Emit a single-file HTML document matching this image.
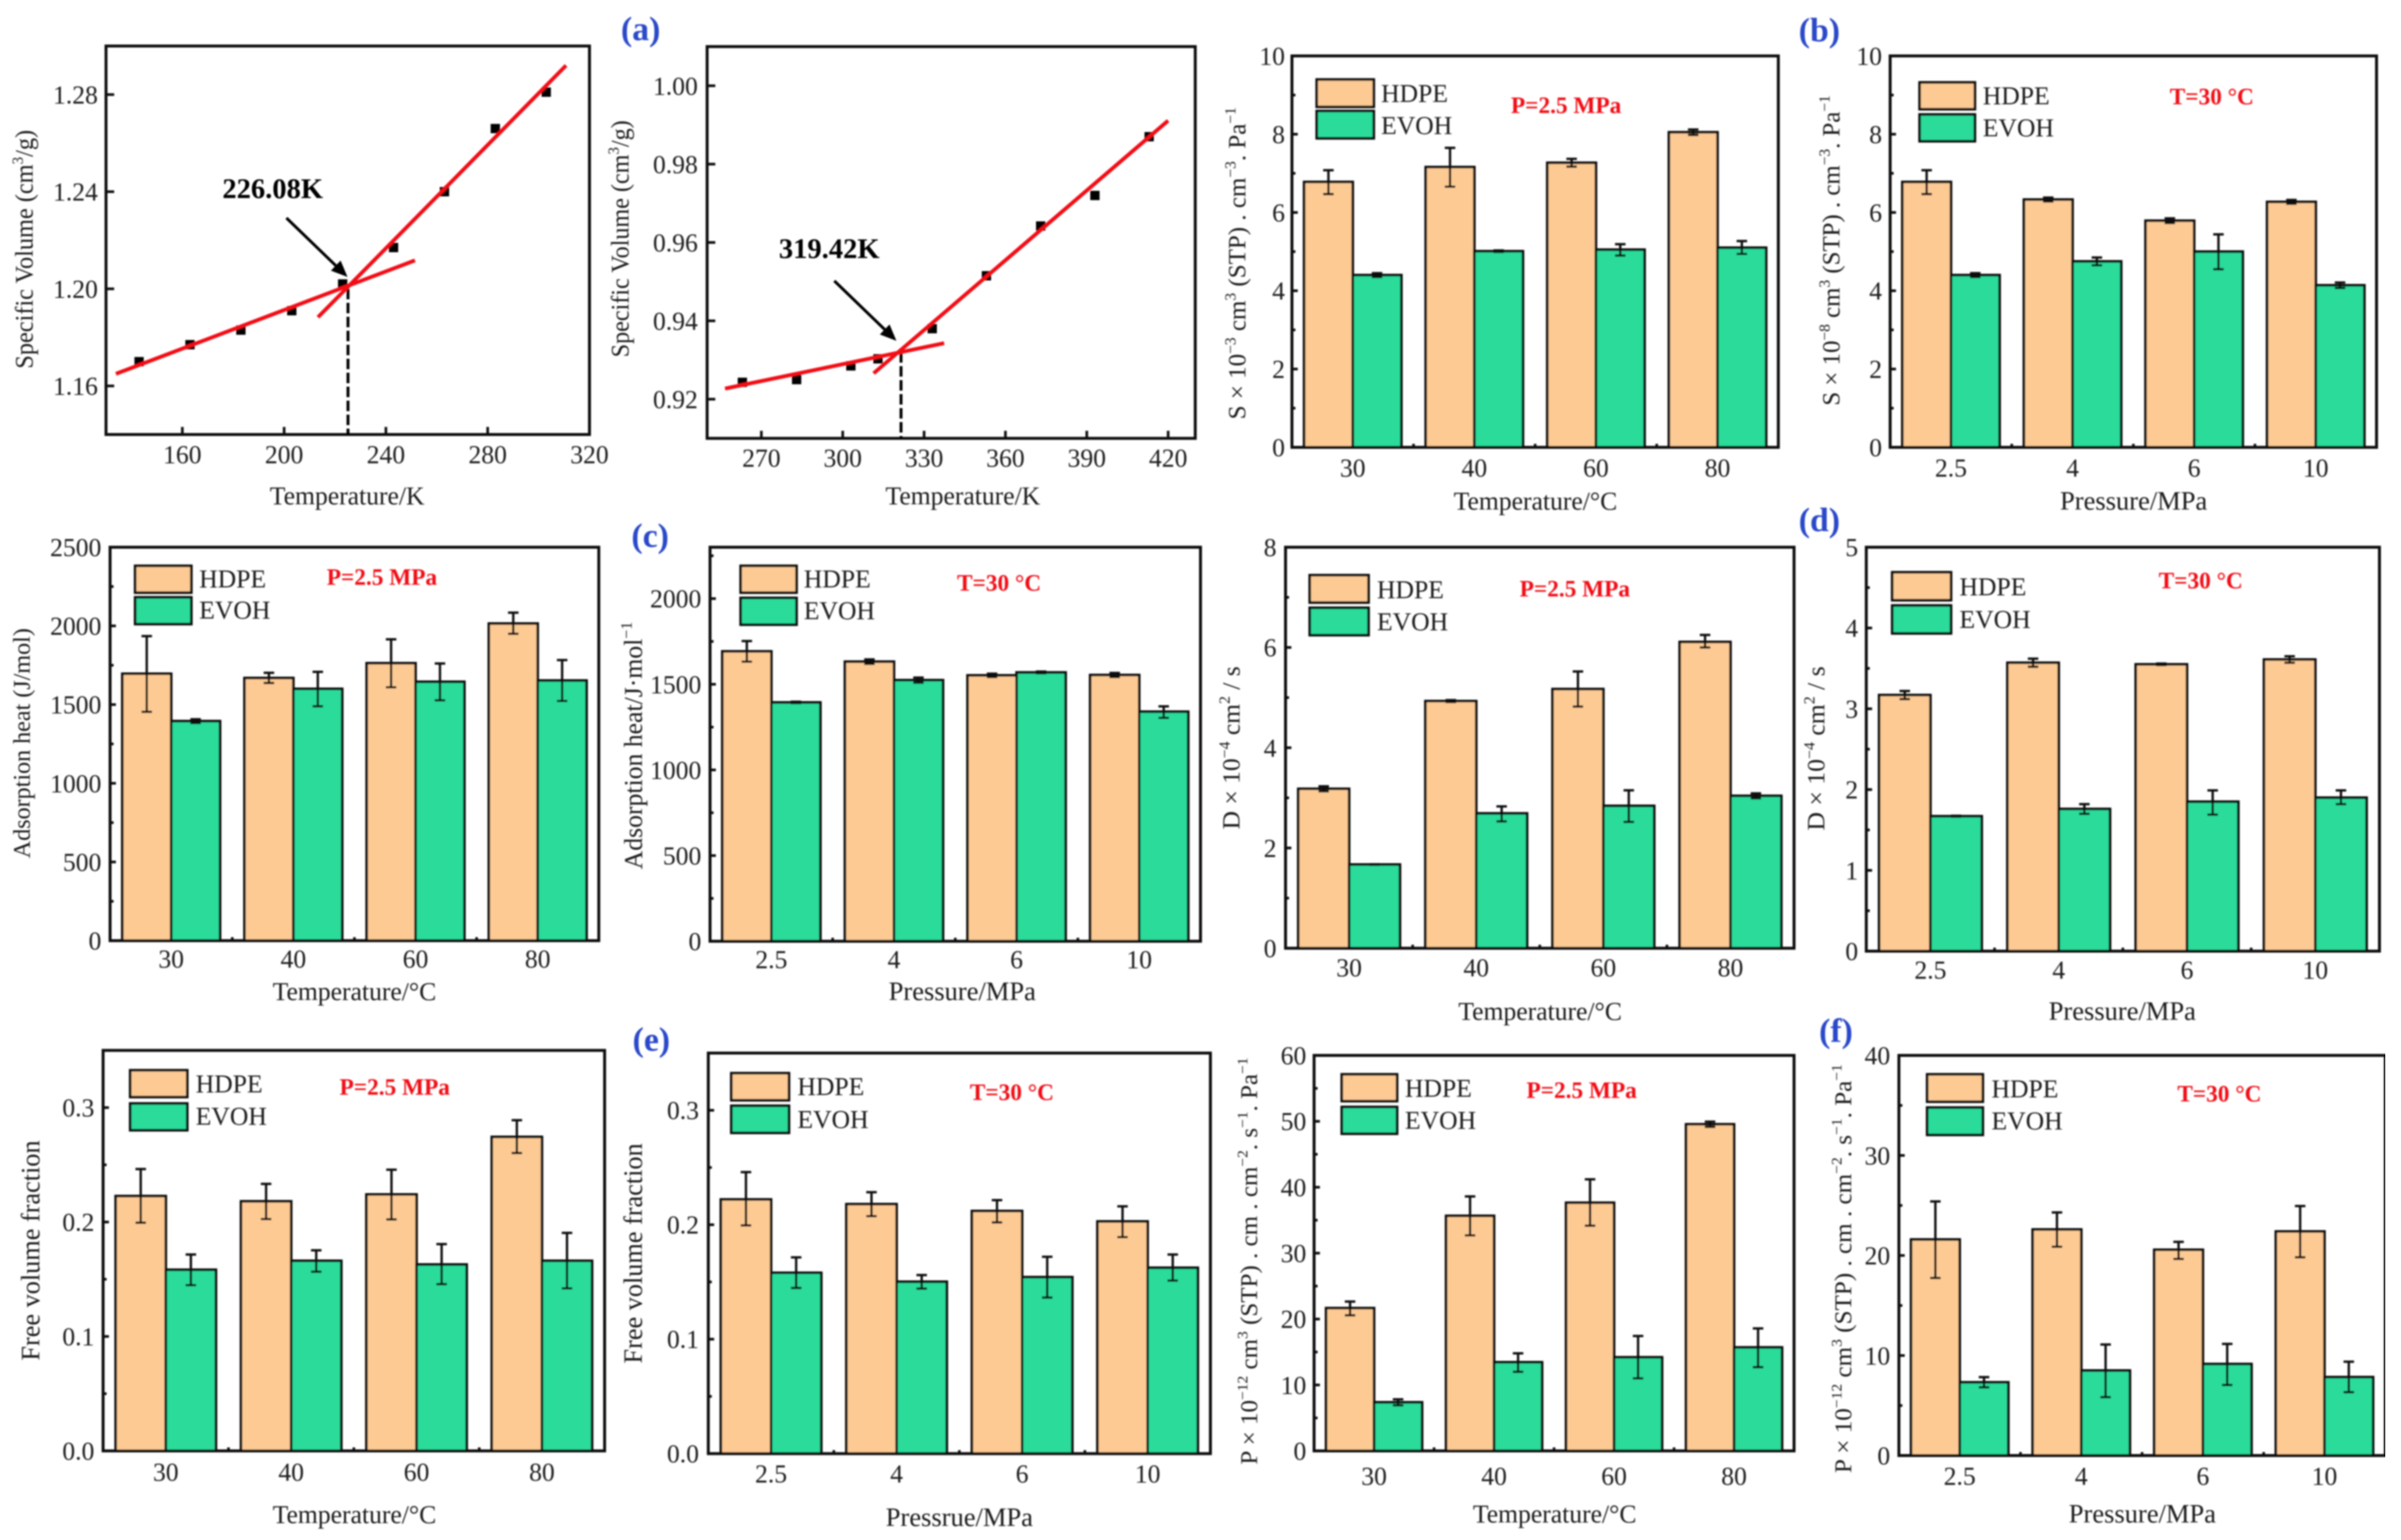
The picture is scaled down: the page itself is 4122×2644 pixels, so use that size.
<!DOCTYPE html>
<html lang="en">
<head>
<meta charset="utf-8">
<title>HDPE and EVOH property charts</title>
<style>
html,body{margin:0;padding:0;background:#fff;}
svg{display:block;}
text{font-family:"Liberation Serif","DejaVu Serif",serif;fill:#1c1c1c;}
</style>
</head>
<body>
<svg id="figure" width="4122" height="2644" viewBox="0 0 4122 2644">
  <defs><filter id="soft" x="0" y="0" width="100%" height="100%"><feGaussianBlur stdDeviation="1.4"/></filter></defs>
  <rect x="0" y="0" width="4122" height="2644" fill="#fff"/>
  <g id="root" filter="url(#soft)"></g>
</svg>
<script>
/* ---------- shared categories ---------- */
const tempCategories = ['30','40','60','80'];
const pressureCategories = ['2.5','4','6','10'];

/* ---------- (a) specific volume ---------- */
const svLowTicksX = [160,200,240,280,320];
const svLowTicksY = [1.16,1.20,1.24,1.28];
const svLowT = [143,163,183,203,223,243,263,283,303];
const svLowV = [1.170,1.177,1.183,1.191,1.202,1.217,1.240,1.266,1.281];
const svLowFitA_T = [133.9,251.4];
const svLowFitA_V = [1.165,1.2117];
const svLowFitB_T = [213.3,310.8];
const svLowFitB_V = [1.1883,1.292];
const svLowArrowT = [200.9,224.9];
const svLowArrowV = [1.2292,1.2049];
const svLowTg = [225.1,1.2];

const svHighTicksX = [270,300,330,360,390,420];
const svHighTicksY = [0.92,0.94,0.96,0.98,1.00];
const svHighT = [263,283,303,313,333,353,373,393,413];
const svHighV = [0.9243,0.925,0.9285,0.9303,0.938,0.9515,0.9642,0.972,0.987];
const svHighFitA_T = [256.6,337.4];
const svHighFitA_V = [0.9227,0.9343];
const svHighFitB_T = [311.4,420];
const svHighFitB_V = [0.9266,0.9911];
const svHighArrowT = [296.9,319.8];
const svHighArrowV = [0.9502,0.9349];
const svHighTg = [321.5,0.932];

/* ---------- (b) solubility ---------- */
const sTicks = [0,2,4,6,8,10];
const sTempHdpe = [6.78,7.16,7.27,8.05];
const sTempHdpeHi = [7.08,7.65,7.37,8.12];
const sTempHdpeLo = [6.47,6.66,7.17,7.98];
const sTempEvoh = [4.40,5.01,5.05,5.10];
const sTempEvohHi = [4.45,5.03,5.19,5.27];
const sTempEvohLo = [4.35,4.99,4.90,4.94];
const sPresHdpe = [6.78,6.33,5.79,6.27];
const sPresHdpeHi = [7.08,6.38,5.85,6.32];
const sPresHdpeLo = [6.47,6.28,5.73,6.22];
const sPresEvoh = [4.40,4.75,5.00,4.14];
const sPresEvohHi = [4.45,4.85,5.44,4.21];
const sPresEvohLo = [4.35,4.65,4.55,4.07];

/* ---------- (c) adsorption heat ---------- */
const hTempTicks = [0,500,1000,1500,2000,2500];
const hTempHdpe = [1696,1669,1763,2015];
const hTempHdpeHi = [1935,1702,1915,2084];
const hTempHdpeLo = [1454,1637,1610,1950];
const hTempEvoh = [1395,1600,1645,1653];
const hTempEvohHi = [1407,1708,1761,1783];
const hTempEvohLo = [1383,1489,1527,1523];
const hPresTicks = [0,500,1000,1500,2000];
const hPresHdpe = [1692,1632,1552,1554];
const hPresHdpeHi = [1752,1645,1562,1566];
const hPresHdpeLo = [1632,1619,1542,1542];
const hPresEvoh = [1394,1524,1569,1340];
const hPresEvohHi = [1398,1539,1574,1371];
const hPresEvohLo = [1390,1509,1564,1304];

/* ---------- (d) diffusion ---------- */
const dTempTicks = [0,2,4,6,8];
const dTempHdpe = [3.18,4.93,5.17,6.11];
const dTempHdpeHi = [3.23,4.95,5.52,6.25];
const dTempHdpeLo = [3.13,4.91,4.82,6.00];
const dTempEvoh = [1.67,2.69,2.84,3.04];
const dTempEvohHi = [1.675,2.83,3.15,3.09];
const dTempEvohLo = [1.665,2.53,2.52,2.99];
const dPresTicks = [0,1,2,3,4,5];
const dPresHdpe = [3.17,3.57,3.55,3.61];
const dPresHdpeHi = [3.22,3.62,3.56,3.65];
const dPresHdpeLo = [3.12,3.52,3.54,3.57];
const dPresEvoh = [1.67,1.76,1.85,1.90];
const dPresEvohHi = [1.675,1.82,1.99,1.99];
const dPresEvohLo = [1.665,1.70,1.69,1.82];

/* ---------- (e) free volume fraction ---------- */
const fTicks = [0,0.1,0.2,0.3];
const fTempHdpe = [0.2227,0.2181,0.2241,0.2744];
const fTempHdpeHi = [0.2463,0.2333,0.2457,0.289];
const fTempHdpeLo = [0.1994,0.2026,0.2023,0.2603];
const fTempEvoh = [0.1583,0.1661,0.1629,0.1661];
const fTempEvohHi = [0.1716,0.1753,0.1807,0.1905];
const fTempEvohLo = [0.1448,0.1566,0.1457,0.142];
const fPresHdpe = [0.2221,0.218,0.212,0.2029];
const fPresHdpeHi = [0.246,0.2284,0.2215,0.2161];
const fPresHdpeLo = [0.1994,0.2075,0.202,0.1892];
const fPresEvoh = [0.158,0.1502,0.1542,0.1624];
const fPresEvohHi = [0.1715,0.156,0.172,0.174];
const fPresEvohLo = [0.1448,0.1442,0.1364,0.1512];

/* ---------- (f) permeability ---------- */
const pTempTicks = [0,10,20,30,40,50,60];
const pTempHdpe = [21.66,35.66,37.65,49.55];
const pTempHdpeHi = [22.66,38.6,41.2,49.95];
const pTempHdpeLo = [20.57,32.7,34.16,49.15];
const pTempEvoh = [7.37,13.45,14.2,15.7];
const pTempEvohHi = [7.82,14.8,17.43,18.58];
const pTempEvohLo = [6.92,12.0,11.0,12.7];
const pPresTicks = [0,10,20,30,40];
const pPresHdpe = [21.6,22.6,20.57,22.4];
const pPresHdpeHi = [25.4,24.3,21.36,24.94];
const pPresHdpeLo = [17.75,20.87,19.65,19.82];
const pPresEvoh = [7.32,8.5,9.15,7.84];
const pPresEvohHi = [7.84,11.1,11.16,9.38];
const pPresEvohLo = [6.82,5.84,7.05,6.33];

/* ---------- drawing helpers ---------- */
const root = document.getElementById('root');
const NS = root.namespaceURI;
const HDPE_COLOR = '#fdca94';
const EVOH_COLOR = '#2bdb9a';
const INK = '#111';
const RED = '#f20d14';

function mk(tag, attrs, parent) {
  const el = document.createElementNS(NS, tag);
  for (const k in attrs) el.setAttribute(k, attrs[k]);
  parent.appendChild(el);
  return el;
}
function rich(el, str, size) {
  const parts = str.split(/\^\{([^}]*)\}/);
  let back = 0;
  parts.forEach(function (part, i) {
    if (!part) return;
    const sup = i % 2 === 1;
    const span = mk('tspan', {}, el);
    span.textContent = part;
    if (sup) {
      span.setAttribute('font-size', size * 0.62);
      span.setAttribute('dy', -size * 0.4);
      back = size * 0.4;
    } else if (back) {
      span.setAttribute('dy', back);
      back = 0;
    }
  });
}
function horizontal(parent, x, y, str, size, anchor) {
  return mk('text', {x: x, y: y, 'font-size': size, 'text-anchor': anchor}, parent);
}
function axisTitles(g, L, xTitle, yTitle) {
  const xSize = xTitle.indexOf('Press') === 0 ? 45.5 : 44;
  const xt = horizontal(g, L.xTitleX, L.xTitleY, xTitle, xSize, 'middle');
  xt.textContent = xTitle;
  
  
  const yt = mk('text', {
    transform: 'translate(' + L.yTitleX + ',' + L.yTitleY + ') rotate(-90)',
    'font-size': L.yTitleSize, 'text-anchor': 'middle',
    textLength: L.yTitleLen, lengthAdjust: 'spacingAndGlyphs'
  }, g);
  rich(yt, yTitle, L.yTitleSize);
  
  
}
function frameRect(g, L) {
  const fr = mk('rect', {x: L.left, y: L.top, width: L.right - L.left, height: L.bottom - L.top, fill: 'none', stroke: INK, 'stroke-width': 5}, g);
  
  
}
function yTickLabel(g, L, yPix, str) {
  const t = horizontal(g, L.yLabelRight, yPix + 15, str, 44, 'end');
  t.textContent = str;
  
  
}
function xTickLabel(g, L, xPix, str) {
  const t = horizontal(g, xPix, L.xLabelBase, str, 44, 'middle');
  t.textContent = str;
  
  
}
function tickLine(g, x1, y1, x2, y2, name) {
  const t = mk('line', {x1: x1, y1: y1, x2: x2, y2: y2, stroke: INK, 'stroke-width': 4.5}, g);
  
  
}

/* ---------- grouped bar chart ---------- */
function barChart(name, L, cats, yTicks, yMax, digits, hdpe, hdpeHi, hdpeLo, evoh, evohHi, evohLo, xTitle, yTitle, note) {
  const g = mk('g', {}, root);
  
  
  const yS = function (v) { return L.bottom - v / yMax * (L.bottom - L.top); };
  const step = (L.right - L.left) / cats.length;
  const xS = function (i) { return L.left + (i + 0.5) * step; };
  const bw = step * 0.4;

  // y ticks
  yTicks.forEach(function (v, i) {
    const y = yS(v);
    tickLine(g, L.left, y, L.left + 10, y, 'y-major-tick');
    yTickLabel(g, L, y, v.toFixed(digits));
    const minor = v + (yTicks[1] - yTicks[0]) / 2;
    if (minor < yMax) tickLine(g, L.left, yS(minor), L.left + 6, yS(minor), 'y-minor-tick');
  });
  // boundary ticks between groups
  cats.forEach(function (c, i) {
    if (i > 0) tickLine(g, L.left + i * step, L.bottom, L.left + i * step, L.bottom - 6, 'x-minor-tick');
    xTickLabel(g, L, xS(i), c);
  });
  // bars
  const series = [
    {key: 'hdpe', color: HDPE_COLOR, v: hdpe, hi: hdpeHi, lo: hdpeLo, off: -bw},
    {key: 'evoh', color: EVOH_COLOR, v: evoh, hi: evohHi, lo: evohLo, off: 0}
  ];
  series.forEach(function (s) {
    s.v.forEach(function (val, i) {
      const x = xS(i) + s.off;
      const bar = mk('rect', {x: x, y: yS(val), width: bw, height: L.bottom - yS(val), fill: s.color, stroke: INK, 'stroke-width': 4.5}, g);
      
      
    });
  });
  series.forEach(function (s) {
    s.v.forEach(function (val, i) {
      const cx = xS(i) + s.off + bw / 2;
      const yh = yS(s.hi[i]), yl = yS(s.lo[i]);
      const eb = mk('path', {
        d: 'M' + cx + ' ' + yh + 'V' + yl + 'M' + (cx - 9) + ' ' + yh + 'H' + (cx + 9) + 'M' + (cx - 9) + ' ' + yl + 'H' + (cx + 9),
        fill: 'none', stroke: INK, 'stroke-width': 4
      }, g);
      
      
    });
  });
  frameRect(g, L);

  // legend
  const leg = mk('g', {}, g);
  
  
  const box1 = mk('rect', {x: L.legX + 1.5, y: L.legY1 + 1.5, width: L.legW - 3, height: L.legH - 3, fill: HDPE_COLOR, stroke: INK, 'stroke-width': 4.5}, leg);
  
  
  const box2 = mk('rect', {x: L.legX + 1.5, y: L.legY2 + 1.5, width: L.legW - 3, height: L.legH - 3, fill: EVOH_COLOR, stroke: INK, 'stroke-width': 4.5}, leg);
  
  
  const lab1 = horizontal(leg, L.legTx, L.legB1, 'HDPE', 44, 'start');
  lab1.textContent = 'HDPE';
  
  
  const lab2 = horizontal(leg, L.legTx, L.legB2, 'EVOH', 44, 'start');
  lab2.textContent = 'EVOH';
  
  

  // condition note
  const cond = horizontal(g, L.noteX, L.noteY, note, 40, 'start');
  cond.textContent = note;
  cond.setAttribute('font-weight', 'bold');
  cond.setAttribute('style', 'fill:' + RED);
  
  

  axisTitles(g, L, xTitle, yTitle);
}

/* ---------- specific volume scatter chart ---------- */
function lineChart(name, L, xDomain, yDomain, xTicks, yTicks, xs, ys, fitAx, fitAy, fitBx, fitBy, arrowX, arrowY, tg, labelText, labelPos, xTitle, yTitle) {
  const g = mk('g', {}, root);
  
  
  const xS = function (v) { return L.left + (v - xDomain[0]) / (xDomain[1] - xDomain[0]) * (L.right - L.left); };
  const yS = function (v) { return L.bottom - (v - yDomain[0]) / (yDomain[1] - yDomain[0]) * (L.bottom - L.top); };

  frameRect(g, L);
  xTicks.forEach(function (v) {
    tickLine(g, xS(v), L.bottom, xS(v), L.bottom - 13, 'x-major-tick');
    xTickLabel(g, L, xS(v), String(v));
  });
  yTicks.forEach(function (v) {
    tickLine(g, L.left, yS(v), L.left + 14, yS(v), 'y-major-tick');
    yTickLabel(g, L, yS(v), v.toFixed(2));
  });
  xs.forEach(function (x, i) {
    const m = mk('rect', {x: xS(x) - 8, y: yS(ys[i]) - 8, width: 16, height: 16, fill: '#000'}, g);
    
    
  });
  const dash = mk('line', {x1: xS(tg[0]), y1: yS(tg[1]), x2: xS(tg[0]), y2: L.bottom, stroke: '#000', 'stroke-width': 5, 'stroke-dasharray': '18 6'}, g);
  
  
  const lineA = mk('line', {x1: xS(fitAx[0]), y1: yS(fitAy[0]), x2: xS(fitAx[1]), y2: yS(fitAy[1]), stroke: RED, 'stroke-width': 6.5}, g);
  
  
  const lineB = mk('line', {x1: xS(fitBx[0]), y1: yS(fitBy[0]), x2: xS(fitBx[1]), y2: yS(fitBy[1]), stroke: RED, 'stroke-width': 6.5}, g);
  
  

  // arrow
  const ax1 = xS(arrowX[0]), ay1 = yS(arrowY[0]), ax2 = xS(arrowX[1]), ay2 = yS(arrowY[1]);
  const ang = Math.atan2(ay2 - ay1, ax2 - ax1);
  const headLen = 28, headW = 12;
  const bx = ax2 - Math.cos(ang) * headLen, by = ay2 - Math.sin(ang) * headLen;
  const shaft = mk('line', {x1: ax1, y1: ay1, x2: bx, y2: by, stroke: '#000', 'stroke-width': 5}, g);
  
  
  const head = mk('polygon', {
    points: ax2 + ',' + ay2 + ' ' + (bx - Math.sin(ang) * headW) + ',' + (by + Math.cos(ang) * headW) + ' ' + (bx + Math.sin(ang) * headW) + ',' + (by - Math.cos(ang) * headW),
    fill: '#000'
  }, g);
  
  

  const lab = horizontal(g, xS(labelPos[0]), yS(labelPos[1]), labelText, 49, 'middle');
  lab.textContent = labelText;
  lab.setAttribute('font-weight', 'bold');
  lab.setAttribute('style', 'fill:#000');
  
  

  axisTitles(g, L, xTitle, yTitle);
}

/* ---------- panels ---------- */
lineChart('chart-specific-volume-hdpe',
  {left:182,right:1012,top:79,bottom:746,yLabelRight:168,xLabelBase:795,xTitleX:596,xTitleY:866,yTitleX:56,yTitleY:428,yTitleSize:43,yTitleLen:410},
  [130,320],[1.14,1.30],svLowTicksX,svLowTicksY,svLowT,svLowV,svLowFitA_T,svLowFitA_V,svLowFitB_T,svLowFitB_V,svLowArrowT,svLowArrowV,svLowTg,
  '226.08K',[195.5,1.2374],'Temperature/K','Specific Volume (cm^{3}/g)');

lineChart('chart-specific-volume-evoh',
  {left:1214,right:2052,top:80,bottom:752.6,yLabelRight:1198,xLabelBase:801,xTitleX:1653,xTitleY:866,yTitleX:1079,yTitleY:410,yTitleSize:43,yTitleLen:407},
  [250,430],[0.91,1.01],svHighTicksX,svHighTicksY,svHighT,svHighV,svHighFitA_T,svHighFitA_V,svHighFitB_T,svHighFitB_V,svHighArrowT,svHighArrowV,svHighTg,
  '319.42K',[295,0.956],'Temperature/K','Specific Volume (cm^{3}/g)');

barChart('chart-solubility-temperature',
  {left:2218,right:3053,top:96,bottom:768,yLabelRight:2206,xLabelBase:818,xTitleX:2636,xTitleY:875,yTitleX:2138,yTitleY:452,yTitleSize:42,yTitleLen:536,
   legX:2259,legW:101,legY1:135,legY2:189,legH:50,legTx:2371,legB1:175,legB2:230,noteX:2594,noteY:194},
  tempCategories,sTicks,10,0,sTempHdpe,sTempHdpeHi,sTempHdpeLo,sTempEvoh,sTempEvohHi,sTempEvohLo,
  'Temperature/°C','S × 10^{−3} cm^{3} (STP) . cm^{−3}. Pa^{−1}','P=2.5 MPa');

barChart('chart-solubility-pressure',
  {left:3245,right:4080,top:96,bottom:768,yLabelRight:3231,xLabelBase:818,xTitleX:3663,xTitleY:875,yTitleX:3158,yTitleY:430,yTitleSize:42,yTitleLen:533,
   legX:3294,legW:98,legY1:140,legY2:195,legH:49,legTx:3404,legB1:179,legB2:234,noteX:3725,noteY:179},
  pressureCategories,sTicks,10,0,sPresHdpe,sPresHdpeHi,sPresHdpeLo,sPresEvoh,sPresEvohHi,sPresEvohLo,
  'Pressure/MPa','S × 10^{−8} cm^{3} (STP) . cm^{−3}. Pa^{−1}','T=30 °C');

barChart('chart-adsorption-heat-temperature',
  {left:189,right:1028,top:939.5,bottom:1615,yLabelRight:174,xLabelBase:1661,xTitleX:608.5,xTitleY:1717,yTitleX:51,yTitleY:1276,yTitleSize:41,yTitleLen:395,
   legX:230.5,legW:99.5,legY1:970,legY2:1024,legH:49,legTx:342,legB1:1008.6,legB2:1062,noteX:561,noteY:1004},
  tempCategories,hTempTicks,2500,0,hTempHdpe,hTempHdpeHi,hTempHdpeLo,hTempEvoh,hTempEvohHi,hTempEvohLo,
  'Temperature/°C','Adsorption heat (J/mol)','P=2.5 MPa');

barChart('chart-adsorption-heat-pressure',
  {left:1219,right:2061,top:939.5,bottom:1616,yLabelRight:1204,xLabelBase:1662,xTitleX:1652,xTitleY:1717,yTitleX:1102,yTitleY:1280,yTitleSize:44,yTitleLen:425,
   legX:1270,legW:99,legY1:970,legY2:1025,legH:49,legTx:1380,legB1:1008.6,legB2:1063,noteX:1643,noteY:1014},
  pressureCategories,hPresTicks,2300,0,hPresHdpe,hPresHdpeHi,hPresHdpeLo,hPresEvoh,hPresEvohHi,hPresEvohLo,
  'Pressure/MPa','Adsorption heat/J·mol^{−1}','T=30 °C');

barChart('chart-diffusion-temperature',
  {left:2207,right:3080,top:939.5,bottom:1628,yLabelRight:2191.5,xLabelBase:1676,xTitleX:2644,xTitleY:1751,yTitleX:2128,yTitleY:1284,yTitleSize:42,yTitleLen:280,
   legX:2247,legW:104,legY1:986,legY2:1042,legH:50,legTx:2364,legB1:1027,legB2:1082,noteX:2609,noteY:1024},
  tempCategories,dTempTicks,8,0,dTempHdpe,dTempHdpeHi,dTempHdpeLo,dTempEvoh,dTempEvohHi,dTempEvohLo,
  'Temperature/°C','D × 10^{−4} cm^{2} / s','P=2.5 MPa');

barChart('chart-diffusion-pressure',
  {left:3204,right:4085,top:939.5,bottom:1633,yLabelRight:3190,xLabelBase:1680,xTitleX:3643.5,xTitleY:1751,yTitleX:3132,yTitleY:1285,yTitleSize:42,yTitleLen:282,
   legX:3247,legW:104,legY1:981,legY2:1038,legH:51,legTx:3364,legB1:1022,legB2:1078,noteX:3706,noteY:1010},
  pressureCategories,dPresTicks,5,0,dPresHdpe,dPresHdpeHi,dPresHdpeLo,dPresEvoh,dPresEvohHi,dPresEvohLo,
  'Pressure/MPa','D × 10^{−4} cm^{2} / s','T=30 °C');

barChart('chart-free-volume-temperature',
  {left:177,right:1038,top:1803.4,bottom:2491,yLabelRight:162,xLabelBase:2542,xTitleX:608.5,xTitleY:2615,yTitleX:67.6,yTitleY:2147,yTitleSize:45,yTitleLen:378,
   legX:222,legW:101,legY1:1836,legY2:1893,legH:49,legTx:336,legB1:1875.6,legB2:1931,noteX:583,noteY:1879.5},
  tempCategories,fTicks,0.35,1,fTempHdpe,fTempHdpeHi,fTempHdpeLo,fTempEvoh,fTempEvohHi,fTempEvohLo,
  'Temperature/°C','Free volume fraction','P=2.5 MPa');

barChart('chart-free-volume-pressure',
  {left:1216,right:2078,top:1808,bottom:2495.7,yLabelRight:1200,xLabelBase:2545,xTitleX:1647,xTitleY:2620,yTitleX:1102,yTitleY:2152,yTitleSize:45,yTitleLen:378,
   legX:1254,legW:102,legY1:1841,legY2:1897,legH:49.5,legTx:1369,legB1:1880,legB2:1936.5,noteX:1665,noteY:1888.5},
  pressureCategories,fTicks,0.35,1,fPresHdpe,fPresHdpeHi,fPresHdpeLo,fPresEvoh,fPresEvohHi,fPresEvohLo,
  'Pressrue/MPa','Free volume fraction','T=30 °C');

barChart('chart-permeability-temperature',
  {left:2256,right:3080,top:1812,bottom:2491,yLabelRight:2242.6,xLabelBase:2549,xTitleX:2669,xTitleY:2614,yTitleX:2158,yTitleY:2165,yTitleSize:41,yTitleLen:699,
   legX:2302,legW:98,legY1:1843,legY2:1899,legH:49,legTx:2412,legB1:1883,legB2:1938,noteX:2620.6,noteY:1885},
  tempCategories,pTempTicks,60,0,pTempHdpe,pTempHdpeHi,pTempHdpeLo,pTempEvoh,pTempEvohHi,pTempEvohLo,
  'Temperature/°C','P × 10^{−12} cm^{3} (STP) . cm . cm^{−2}. s^{−1}. Pa^{−1}','P=2.5 MPa');

barChart('chart-permeability-pressure',
  {left:3260,right:4095,top:1812,bottom:2499,yLabelRight:3245,xLabelBase:2549,xTitleX:3678,xTitleY:2614,yTitleX:3178,yTitleY:2178,yTitleSize:41,yTitleLen:702,
   legX:3307,legW:98.6,legY1:1843,legY2:1900,legH:50,legTx:3419,legB1:1884,legB2:1939,noteX:3738,noteY:1891},
  pressureCategories,pPresTicks,40,0,pPresHdpe,pPresHdpeHi,pPresHdpeLo,pPresEvoh,pPresEvohHi,pPresEvohLo,
  'Pressure/MPa','P × 10^{−12} cm^{3} (STP) . cm . cm^{−2}. s^{−1}. Pa^{−1}','T=30 °C');

/* ---------- panel letters ---------- */
const panelLetters = ['(a)','(b)','(c)','(d)','(e)','(f)'];
const panelLetterX = [1066,3088,1084,3088,1086,3123];
const panelLetterY = [69,71,939,912,1804,1789];
panelLetters.forEach(function (str, i) {
  const t = mk('text', {x: panelLetterX[i], y: panelLetterY[i], 'font-size': 58, 'font-weight': 'bold', style: 'fill:#2c48c9'}, root);
  t.textContent = str;
  
  
});
</script>
</body>
</html>
